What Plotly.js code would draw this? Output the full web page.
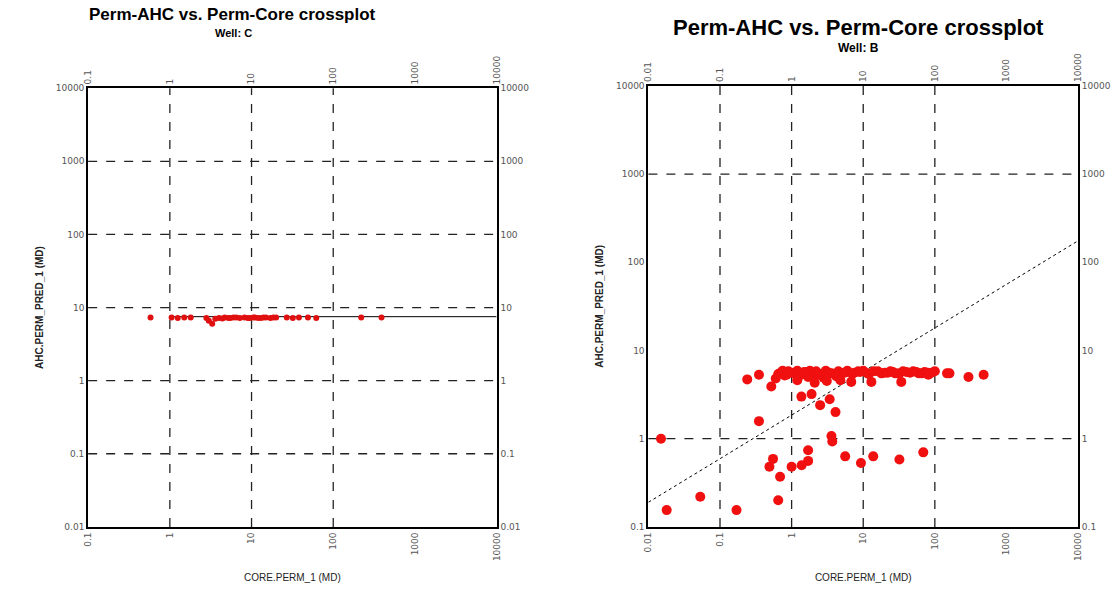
<!DOCTYPE html>
<html>
<head>
<meta charset="utf-8">
<script src="https://cdn.plot.ly/plotly-3.0.1.min.js"></script>
<style>body{margin:0;background:#fff}#chart{width:1116px;height:592px}</style>
</head>
<body>
<div id="chart"></div>
<script>
// Well C
const coreC = [0.58, 1.05, 1.25, 1.5, 1.8, 2.8, 3.0, 3.3, 3.6, 4.0, 4.4, 4.7, 5.2, 5.5, 6.0, 6.5, 7.2, 8.2, 9.0, 9.5, 10.5, 11, 12, 13, 14, 15, 17, 18.5, 20, 27, 32, 38, 49, 62, 220, 390];
const predC = [7.3, 7.3, 7.2, 7.3, 7.3, 7.2, 6.6, 6.0, 7.0, 7.2, 7.1, 7.3, 7.2, 7.2, 7.3, 7.3, 7.2, 7.3, 7.2, 7.2, 7.3, 7.3, 7.2, 7.2, 7.3, 7.3, 7.2, 7.3, 7.3, 7.3, 7.2, 7.3, 7.3, 7.2, 7.3, 7.3];
const fitCx = [1, 10000];
const fitCy = [7.5, 7.5];
// Well B
const coreB = [0.015, 0.018, 0.053, 0.17, 0.65, 0.69, 0.49, 0.55, 1.0, 1.38, 1.7, 1.7, 0.35, 3.6, 3.7, 5.6, 9.3, 13.8, 32, 69,
  4.1, 3.4, 2.5, 1.9, 1.37, 0.52, 0.24, 0.35, 148, 160, 295, 480, 6.8, 13, 34, 81,
  0.6, 0.7, 0.8, 0.9, 1.1, 1.2, 1.4, 1.6, 1.8, 2.0, 2.2, 2.6, 3.0, 3.3, 4.5, 5.0, 6.0, 7.5, 8.5, 10, 11.5, 16, 20, 24, 28, 40, 50, 60, 72, 90, 100,
  0.65, 0.75, 0.85, 1.0, 1.3, 1.5, 1.7, 2.4, 2.8, 3.6, 4.2, 5.5, 7.0, 9.0, 12, 14, 18, 22, 26, 32, 36, 45, 55, 66, 80, 1.2, 2.1, 3.1, 4.8];
const predB = [1.0, 0.155, 0.22, 0.155, 0.2, 0.37, 0.48, 0.59, 0.48, 0.5, 0.56, 0.74, 1.58, 1.07, 0.93, 0.63, 0.53, 0.63, 0.58, 0.70,
  2.0, 2.8, 2.4, 3.2, 3.0, 3.9, 4.7, 5.3, 5.5, 5.5, 5.0, 5.3, 4.4, 4.4, 4.4, 5.3,
  4.8, 5.6, 5.2, 5.8, 5.5, 5.9, 5.4, 5.7, 5.9, 5.5, 5.8, 5.4, 5.9, 5.6, 5.8, 5.5, 5.9, 5.6, 5.8, 5.9, 5.5, 5.8, 5.6, 5.8, 5.5, 5.7, 5.8, 5.5, 5.7, 5.6, 5.8,
  5.4, 5.9, 5.3, 5.6, 5.2, 5.7, 5.0, 5.3, 4.9, 5.5, 5.1, 5.6, 5.4, 5.7, 5.4, 5.8, 5.5, 5.6, 5.7, 5.5, 5.8, 5.6, 5.7, 5.5, 5.6, 4.6, 4.3, 4.5, 4.6];
const fitBx = [0.01, 10000];
const fitBy = [0.19, 175];

const ticksC_x = [0.1, 1, 10, 100, 1000, 10000];
const ticksC_y = [0.01, 0.1, 1, 10, 100, 1000, 10000];
const ticksB_x = [0.01, 0.1, 1, 10, 100, 1000, 10000];
const ticksB_y = [0.1, 1, 10, 100, 1000, 10000];
const gridC_x = [1, 10, 100];
const gridC_y = [0.1, 1, 10, 100, 1000];
const gridB_x = [0.1, 1, 10, 100];
const gridB_y = [1, 1000];

const tickFont = {family: 'DejaVu Sans', size: 9, color: '#555'};
const axTitleFont = {family: 'Liberation Sans', size: 10, color: '#222'};
function ax(domain, range, vals, extra) {
  return Object.assign({type: 'log', domain: domain, range: range, tickvals: vals, ticktext: vals.map(String),
    showgrid: false, zeroline: false, showline: true, linecolor: '#000', linewidth: 2, ticks: '', tickfont: tickFont}, extra);
}
const layout = {
  width: 1116, height: 592, margin: {l: 0, r: 0, t: 0, b: 0}, showlegend: false,
  paper_bgcolor: '#fff', plot_bgcolor: '#fff',
  xaxis: ax([0.079, 0.445], [-1, 4], ticksC_x, {anchor: 'y', tickangle: -90,
    title: {text: 'CORE.PERM_1 (MD)', font: axTitleFont, standoff: 14}}),
  yaxis: ax([0.11, 0.851], [-2, 4], ticksC_y, {anchor: 'x',
    title: {text: '<b>AHC.PERM_PRED_1 (MD)</b>', font: axTitleFont, standoff: 10}}),
  xaxis3: ax([0.079, 0.445], [-1, 4], ticksC_x, {overlaying: 'x', side: 'top', anchor: 'y', tickangle: -90}),
  yaxis3: ax([0.11, 0.851], [-2, 4], ticksC_y, {overlaying: 'y', side: 'right', anchor: 'x'}),
  xaxis2: ax([0.581, 0.966], [-2, 4], ticksB_x, {anchor: 'y2', tickangle: -90,
    title: {text: 'CORE.PERM_1 (MD)', font: axTitleFont, standoff: 14}}),
  yaxis2: ax([0.11, 0.855], [-1, 4], ticksB_y, {anchor: 'x2',
    title: {text: '<b>AHC.PERM_PRED_1 (MD)</b>', font: axTitleFont, standoff: 10}}),
  xaxis4: ax([0.581, 0.966], [-2, 4], ticksB_x, {overlaying: 'x2', side: 'top', anchor: 'y2', tickangle: -90}),
  yaxis4: ax([0.11, 0.855], [-1, 4], ticksB_y, {overlaying: 'y2', side: 'right', anchor: 'x2'}),
  shapes: [],
  annotations: [
    {text: '<b>Perm-AHC vs. Perm-Core crossplot</b>', x: 0.208, y: 1 - 15/592, xref: 'paper', yref: 'paper', xanchor: 'center', yanchor: 'middle', showarrow: false, font: {family: 'Liberation Sans', size: 17, color: '#000'}},
    {text: '<b>Well: C</b>', x: 0.209, y: 1 - 33/592, xref: 'paper', yref: 'paper', xanchor: 'center', yanchor: 'middle', showarrow: false, font: {family: 'Liberation Sans', size: 11, color: '#000'}},
    {text: '<b>Perm-AHC vs. Perm-Core crossplot</b>', x: 0.769, y: 1 - 27/592, xref: 'paper', yref: 'paper', xanchor: 'center', yanchor: 'middle', showarrow: false, font: {family: 'Liberation Sans', size: 22, color: '#000'}},
    {text: '<b>Well: B</b>', x: 0.769, y: 1 - 48/592, xref: 'paper', yref: 'paper', xanchor: 'center', yanchor: 'middle', showarrow: false, font: {family: 'Liberation Sans', size: 12, color: '#000'}}
  ]
};
const dash = {color: '#222', width: 1.3, dash: 'dash'};
gridC_x.forEach(v => layout.shapes.push({type: 'line', xref: 'x', yref: 'y domain', x0: v, x1: v, y0: 0, y1: 1, line: dash, layer: 'below'}));
gridC_y.forEach(v => layout.shapes.push({type: 'line', xref: 'x domain', yref: 'y', x0: 0, x1: 1, y0: v, y1: v, line: dash, layer: 'below'}));
gridB_x.forEach(v => layout.shapes.push({type: 'line', xref: 'x2', yref: 'y2 domain', x0: v, x1: v, y0: 0, y1: 1, line: dash, layer: 'below'}));
gridB_y.forEach(v => layout.shapes.push({type: 'line', xref: 'x2 domain', yref: 'y2', x0: 0, x1: 1, y0: v, y1: v, line: dash, layer: 'below'}));

const data = [
  {x: fitCx, y: fitCy, xaxis: 'x', yaxis: 'y', mode: 'lines', line: {color: '#000', width: 1}},
  {x: coreC, y: predC, xaxis: 'x', yaxis: 'y', mode: 'markers', marker: {color: '#e01010', size: 6}},
  {x: fitBx, y: fitBy, xaxis: 'x2', yaxis: 'y2', mode: 'lines', line: {color: '#000', width: 1, dash: 'dot'}},
  {x: coreB, y: predB, xaxis: 'x2', yaxis: 'y2', mode: 'markers', marker: {color: '#f01010', size: 10}},
  // invisible traces so the mirrored axes are drawn
  {x: fitCx, y: fitCy, xaxis: 'x3', yaxis: 'y3', mode: 'lines', line: {width: 0}, hoverinfo: 'skip'},
  {x: fitBx, y: fitBy, xaxis: 'x4', yaxis: 'y4', mode: 'lines', line: {width: 0}, hoverinfo: 'skip'}
];
Plotly.newPlot('chart', data, layout, {displayModeBar: false});
</script>
</body>
</html>
